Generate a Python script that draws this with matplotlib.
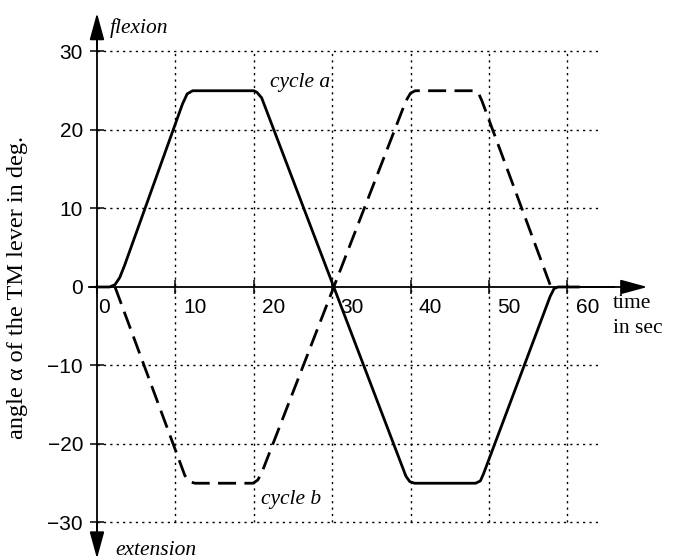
import matplotlib
matplotlib.use('Agg')
from matplotlib import pyplot as plt
from matplotlib.transforms import ScaledTranslation

# time (s) and lever angle (deg) for the two movement cycles
t_a = [0, 1.6, 2.3, 2.9, 3.5, 10.9, 11.5, 12.2, 20.0, 20.4, 21.0, 39.4, 39.9, 40.5,
       48.3, 48.9, 49.3, 57.8, 58.3, 58.8, 61.4]
ang_a = [0, 0, 0.3, 1.2, 2.7, 23.3, 24.6, 25, 25, 24.8, 24.1, -24.1, -24.8, -25,
         -25, -24.7, -23.8, -1.2, -0.2, 0, 0]
t_b = [2.3, 11.2, 11.8, 12.5, 19.9, 20.5, 21.0, 39.4, 40.0, 40.6, 48.2, 48.7, 49.1, 57.9]
ang_b = [0, -24.0, -24.8, -25, -25, -24.6, -23.7, 23.7, 24.7, 25, 25, 24.6, 23.7, 0]

xticks = [0, 10, 20, 30, 40, 50, 60]
yticks = [-30, -20, -10, 0, 10, 20, 30]

serif = 'Liberation Serif'
sans = 'Liberation Sans'

fig = plt.figure(figsize=(6.76, 5.6), dpi=100)
ax = fig.add_axes([0, 0, 1, 1])
ax.set_xlim(-12.37, 73.85)
ax.set_ylim(-34.78, 36.56)

# dotted grid
dots = (0, (1.6, 3.0))
ax.vlines(xticks[1:], -30, 30, colors='k', linestyles=dots, lw=1.0)
ax.hlines([y for y in yticks if y != 0], 0, 63.9, colors='k', linestyles=dots, lw=1.0)

ax.plot(t_a, ang_a, color='k', lw=2.0, solid_joinstyle='round')
ax.plot(t_b, ang_b, color='k', lw=2.0, linestyle=(0, (6.5, 3.0)))

# axes crossing at the origin
for s in ['top', 'right']:
    ax.spines[s].set_visible(False)
ax.spines['left'].set_position(('data', 0))
ax.spines['bottom'].set_position(('data', 0))
ax.spines['left'].set_bounds(-33, 33)
ax.spines['bottom'].set_bounds(-1.0, 66)
ax.spines['left'].set_linewidth(1.3)
ax.spines['bottom'].set_linewidth(1.3)
ax.set_xticks(xticks)
ax.set_yticks(yticks)
ax.tick_params(direction='inout', length=10, width=1.1, labelsize=15)
ax.tick_params(axis='y', pad=5)
ax.tick_params(axis='x', pad=3)
for lab in ax.get_yticklabels():
    lab.set_fontfamily(sans)
for i, lab in enumerate(ax.get_xticklabels()):
    lab.set_fontfamily(sans)
    lab.set_horizontalalignment('left')
    dx = 1 / 72 if i == 0 else 6 / 72
    lab.set_transform(lab.get_transform() + ScaledTranslation(dx, 0, fig.dpi_scale_trans))

arrow = dict(arrowstyle='-|>,head_length=1.1,head_width=0.3', mutation_scale=15,
             color='k', lw=1.3, shrinkA=0, shrinkB=0)
ax.annotate('', xy=(70.2, 0), xytext=(60, 0), arrowprops=arrow)
ax.annotate('', xy=(0, 34.9), xytext=(0, 30), arrowprops=arrow)
ax.annotate('', xy=(0, -34.6), xytext=(0, -30), arrowprops=arrow)

txt = dict(family=serif, fontsize=15.5, va='center')
ax.text(1.6, 33.0, 'flexion', style='italic', **txt)
ax.text(2.3, -33.6, 'extension', style='italic', **txt)
ax.text(22.1, 26.0, 'cycle a', style='italic', **txt)
ax.text(20.9, -27.1, 'cycle b', style='italic', **txt)
ax.text(65.8, -2.1, 'time', **txt)
ax.text(65.8, -5.3, 'in sec', **txt)
ax.text(-10.1, 0.0, 'angle \u03b1 of the TM lever in deg.', family=serif, fontsize=17.5,
        rotation=90, ha='center', va='center')

fig.savefig('out.png', dpi=100)
